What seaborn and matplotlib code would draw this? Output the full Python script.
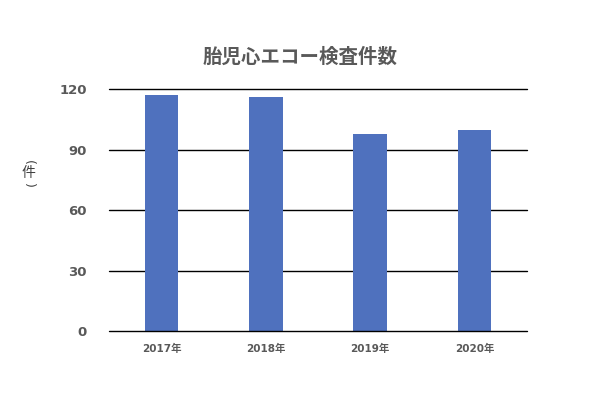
#!/usr/bin/env python3
import matplotlib
matplotlib.use("Agg")
import matplotlib.pyplot as plt
import pandas as pd
import seaborn as sns

years = ["2017年", "2018年", "2019年", "2020年"]
counts = [117, 116, 98, 100]
title = "胎児心エコー検査件数"
unit = "件"

sns.set_theme(style="white")
plt.rcParams['font.family'] = ['DejaVu Sans', 'Noto Sans CJK JP']

df = pd.DataFrame({"year": years, "count": counts})

fig = plt.figure(figsize=(6, 4), dpi=100)
ax = fig.add_axes([0.182, 0.1725, 0.696, 0.6045])

sns.barplot(data=df, x="year", y="count", color="#4F71BE", width=0.32,
            saturation=1, linewidth=0, ax=ax, zorder=3)

ax.set_ylim(0, 120)
ax.set_yticks([0, 30, 60, 90, 120])
ax.set_xlim(-0.5, 3.5)
for y in [30, 60, 90, 120]:
    ax.axhline(y, color="black", lw=1.0, zorder=1, clip_on=False)
ax.axhline(0, color="black", lw=1.0, zorder=4, clip_on=False)

for s in ax.spines.values():
    s.set_visible(False)
ax.tick_params(axis="y", length=0, pad=16, labelsize=9.5, labelcolor="#595959")
ax.tick_params(axis="x", length=0, pad=9, labelsize=7.5, labelcolor="#595959")
for lbl in ax.get_yticklabels() + ax.get_xticklabels():
    lbl.set_fontweight("bold")
ax.set_xlabel("")
ax.set_ylabel("")

fig.text(0.5, 0.857, title, ha="center", va="center", fontsize=14,
         fontweight="bold", color="#595959", family=["Noto Sans CJK JP"])

# vertical unit label: upright 件 between rotated brackets
fig.text(0.047, 1 - 162 / 400, "(", ha="center", va="center", fontsize=9,
         rotation=-90, color="#404040", family=["DejaVu Sans"])
fig.text(0.047, 1 - 173 / 400, unit, ha="center", va="center", fontsize=10,
         color="#404040", family=["Noto Sans CJK JP"])
fig.text(0.047, 1 - 185 / 400, ")", ha="center", va="center", fontsize=9,
         rotation=-90, color="#404040", family=["DejaVu Sans"])

plt.savefig("out.png", dpi=100)
